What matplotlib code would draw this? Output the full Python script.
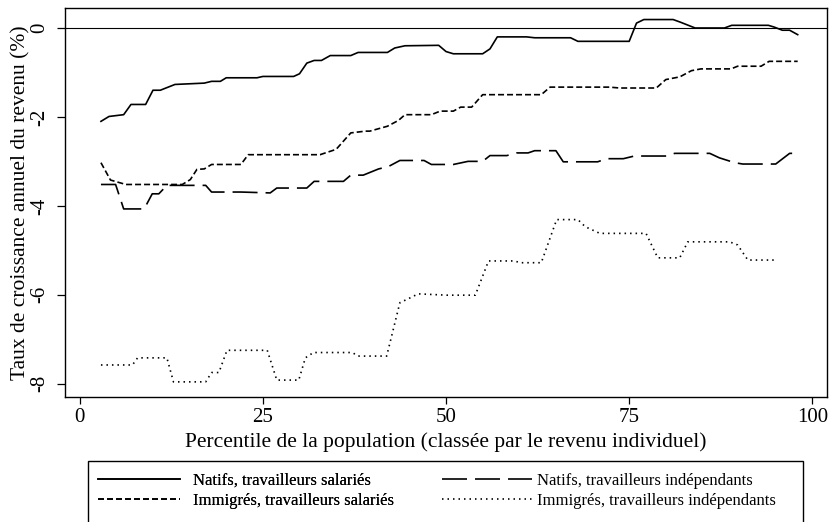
import matplotlib.pyplot as plt
from matplotlib.patches import Rectangle

plt.rcParams['font.family'] = ['Liberation Serif', 'DejaVu Serif']
plt.rcParams['axes.unicode_minus'] = False

# vertices (percentile, annual growth %)
nat_sal_x = [2.9, 4, 6, 7, 9, 10, 11, 13, 17, 18, 19.2, 20, 24.2, 25, 29.2, 30, 31, 32, 33,
             34.2, 37, 38, 42, 43, 44.4, 49, 50, 51, 55, 56, 57, 61, 62.1, 67, 68, 75, 76,
             77, 81, 82, 84, 88, 89, 94, 94.8, 95.9, 96.9, 98]
nat_sal_y = [-2.1, -1.99, -1.95, -1.72, -1.72, -1.4, -1.4, -1.27, -1.24, -1.2, -1.2, -1.12,
             -1.12, -1.09, -1.09, -1.03, -0.79, -0.73, -0.73, -0.62, -0.62, -0.55, -0.55,
             -0.45, -0.4, -0.39, -0.53, -0.58, -0.58, -0.47, -0.2, -0.2, -0.22, -0.22, -0.3,
             -0.3, 0.11, 0.19, 0.19, 0.13, 0.0, 0.0, 0.06, 0.06, 0.02, -0.05, -0.05, -0.15]

nat_ind_x = [2.9, 4.9, 6, 8.8, 9.9, 10.8, 11.9, 17.2, 18, 22, 26, 26.9, 31, 32, 36, 37, 38.7,
             40.8, 42.1, 43.7, 47, 48, 51, 53, 55, 56, 58.3, 59.6, 61.2, 62.1, 65, 66, 70.7,
             71.9, 74.2, 75.7, 80.3, 81.2, 86, 87.3, 89.4, 90.5, 95, 96.9, 98]
nat_ind_y = [-3.52, -3.52, -4.07, -4.07, -3.73, -3.73, -3.54, -3.54, -3.69, -3.69, -3.71,
             -3.6, -3.6, -3.45, -3.45, -3.31, -3.31, -3.17, -3.12, -2.98, -2.98, -3.07,
             -3.07, -3.0, -3.0, -2.87, -2.87, -2.81, -2.81, -2.76, -2.76, -3.01, -3.01,
             -2.94, -2.94, -2.88, -2.88, -2.82, -2.82, -2.92, -3.03, -3.06, -3.06, -2.82,
             -2.82]

imm_sal_x = [2.9, 4.2, 6.3, 14, 15.1, 16, 17, 18, 22, 23, 32.8, 35, 37, 39, 39.6, 42, 43.5,
             44.4, 48, 49.2, 51, 52, 53.5, 55, 63, 64.2, 72.3, 73.7, 78.7, 80, 81.9, 83.5,
             84.8, 88.9, 89.8, 93, 94.1, 98]
imm_sal_y = [-3.03, -3.42, -3.52, -3.52, -3.41, -3.18, -3.17, -3.07, -3.07, -2.85, -2.85,
             -2.73, -2.36, -2.32, -2.32, -2.21, -2.08, -1.95, -1.95, -1.87, -1.87, -1.78,
             -1.78, -1.5, -1.5, -1.33, -1.33, -1.35, -1.35, -1.16, -1.1, -0.96, -0.92,
             -0.92, -0.86, -0.86, -0.75, -0.75]

imm_ind_x = [2.9, 7.2, 7.9, 11.9, 12.8, 17.2, 18, 19, 20.1, 25.6, 26.9, 29.9, 30.8, 31.9,
             37.2, 38, 41.9, 43.7, 45.1, 46.2, 50.1, 54, 55.8, 59.2, 60.3, 63, 65.1, 68, 69,
             71, 77.3, 78.9, 81.9, 83, 88.7, 89.8, 91.2, 94.8]
imm_ind_y = [-7.58, -7.58, -7.42, -7.42, -7.96, -7.96, -7.75, -7.75, -7.25, -7.25, -7.92,
             -7.92, -7.42, -7.3, -7.3, -7.38, -7.38, -6.18, -6.07, -5.98, -6.01, -6.01,
             -5.24, -5.24, -5.28, -5.28, -4.31, -4.31, -4.47, -4.62, -4.62, -5.17, -5.17,
             -4.81, -4.81, -4.88, -5.22, -5.22]

labels = ["Natifs, travailleurs salariés", "Natifs, travailleurs indépendants",
          "Immigrés, travailleurs salariés", "Immigrés, travailleurs indépendants"]

fig = plt.figure(figsize=(8.34, 5.22), dpi=100)
ax = fig.add_axes([0.078, 0.2395, 0.9136, 0.7452])

lw = 1.2
l1, = ax.plot(nat_sal_x, nat_sal_y, color="black", lw=lw, ls="-")
l2, = ax.plot(nat_ind_x, nat_ind_y, color="black", lw=lw, ls=(0, (15, 4.8)))
l3, = ax.plot(imm_sal_x, imm_sal_y, color="black", lw=lw, ls=(0, (3.6, 1.8)))
l4, = ax.plot(imm_ind_x, imm_ind_y, color="black", lw=lw, ls=(0, (0.9, 2.4)))
ax.axhline(0, color="black", lw=0.8)

ax.set_xlim(-2, 102)
ax.set_ylim(-8.3, 0.45)
ax.set_xticks([0, 25, 50, 75, 100])
ax.set_yticks([0, -2, -4, -6, -8])
ax.tick_params(axis="both", direction="out", labelsize=15, width=0.9)
ax.tick_params(axis="x", length=5, pad=3)
ax.tick_params(axis="y", length=5.5, pad=6, labelrotation=90)
for t in ax.get_yticklabels():
    t.set_va("center")
for s in ax.spines.values():
    s.set_linewidth(1.0)

ax.set_xlabel("Percentile de la population (classée par le revenu individuel)", fontsize=15.5)
ax.set_ylabel("Taux de croissance annuel du revenu (%)", fontsize=15.5)
ax.xaxis.set_label_coords(0.5, -0.091)
ax.yaxis.set_label_coords(-0.046, 0.5)

# legend frame, cut off by the bottom of the figure as in the reference
fig.patches.append(Rectangle((88 / 834, -0.05), (803 - 88) / 834, 0.05 + 1 - 460.7 / 522,
                             transform=fig.transFigure, fill=False, lw=1.0,
                             edgecolor="black"))

leg1 = fig.legend([l1, l3], [labels[0], labels[2]], loc="upper left",
                  bbox_to_anchor=(98 / 834, 1 - 473 / 522), frameon=False, fontsize=12,
                  handlelength=4.9, handletextpad=0.78, borderpad=0, borderaxespad=0,
                  labelspacing=0.22)
leg2 = fig.legend([l2, l4], [labels[1], labels[3]], loc="upper left",
                  bbox_to_anchor=(441.7 / 834, 1 - 473 / 522), frameon=False, fontsize=12,
                  handlelength=5.4, handletextpad=0.3, borderpad=0, borderaxespad=0,
                  labelspacing=0.22)
fig.add_artist(leg1)

fig.savefig("out.png", dpi=100)
